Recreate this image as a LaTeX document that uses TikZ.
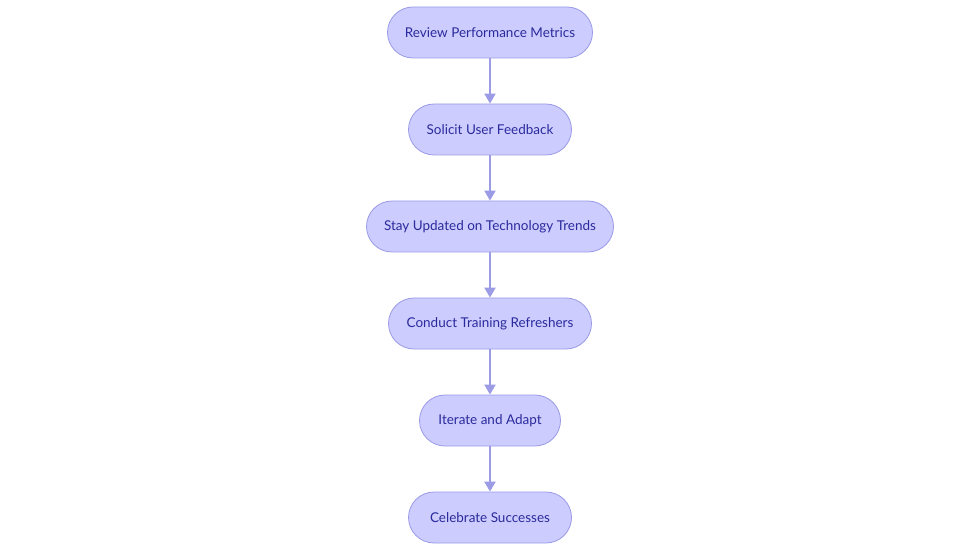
\documentclass[tikz,border=0pt]{standalone}
\usepackage{fontspec}
\setmainfont{Lato}
\usetikzlibrary{arrows.meta}
\definecolor{boxfill}{HTML}{CCCCFF}
\definecolor{boxline}{HTML}{9A9AE6}
\definecolor{boxtext}{HTML}{2A2A9C}
\definecolor{arrowcol}{HTML}{9C9CE6}
\tikzset{
  stepbox/.style={draw=boxline, fill=boxfill, line width=0.8pt, rounded corners=25.5pt,
    minimum height=51pt, inner sep=0pt, text=boxtext, font=\fontsize{13.5pt}{16pt}\selectfont},
  flowarrow/.style={draw=arrowcol, line width=2pt, -{Triangle[width=11pt,length=10pt]}}
}
\begin{document}
\begin{tikzpicture}[x=1pt,y=-1pt]
\useasboundingbox (0,0) rectangle (980,553);
\node[stepbox, minimum width=205pt] (n1) at (490,32.5) {Review Performance Metrics};
\node[stepbox, minimum width=163pt] (n2) at (490,129.5) {Solicit User Feedback};
\node[stepbox, minimum width=247pt] (n3) at (490,226.5) {Stay Updated on Technology Trends};
\node[stepbox, minimum width=203pt] (n4) at (490,323.5) {Conduct Training Refreshers};
\node[stepbox, minimum width=141pt] (n5) at (490,420.5) {Iterate and Adapt};
\node[stepbox, minimum width=163pt] (n6) at (490,517.5) {Celebrate Successes};
\draw[flowarrow] (n1) -- (n2);
\draw[flowarrow] (n2) -- (n3);
\draw[flowarrow] (n3) -- (n4);
\draw[flowarrow] (n4) -- (n5);
\draw[flowarrow] (n5) -- (n6);
\end{tikzpicture}
\end{document}
